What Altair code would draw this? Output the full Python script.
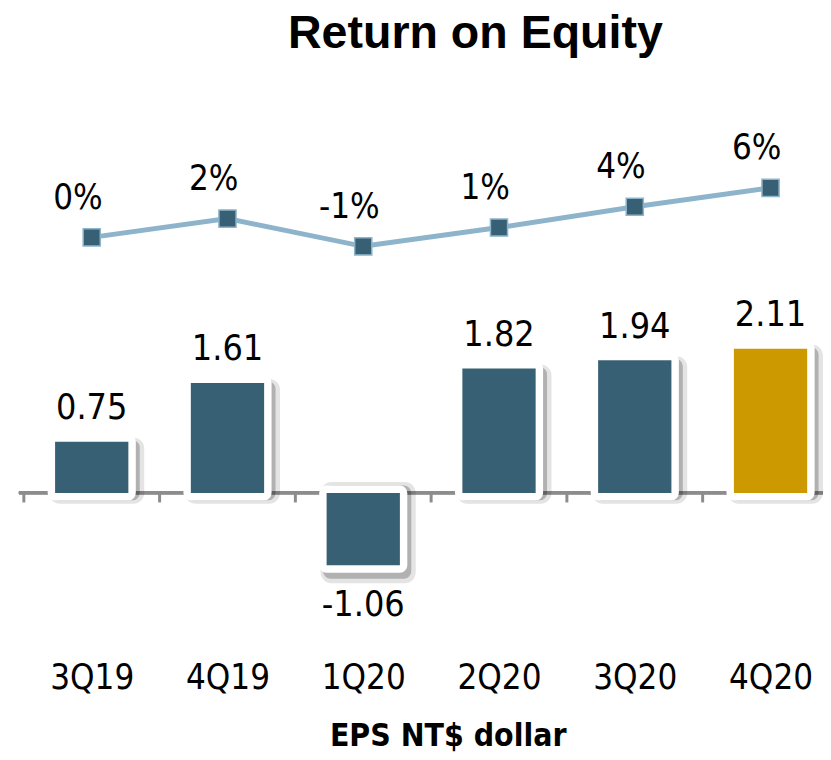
import altair as alt
import pandas as pd

# ---- data ----
quarters = ["3Q19", "4Q19", "1Q20", "2Q20", "3Q20", "4Q20"]
eps = [0.75, 1.61, -1.06, 1.82, 1.94, 2.11]
roe = [0.0012, 0.0235, -0.0094, 0.0129, 0.0376, 0.0600]
highlight = "4Q20"

df = pd.DataFrame({"quarter": quarters, "idx": list(range(len(quarters))),
                   "eps": eps, "roe": roe})
bounds = pd.DataFrame({"b": [i - 0.5 for i in range(len(quarters))]})

DARK = "#386075"
GOLD = "#CC9900"
LINE = "#8DB4CB"
AXIS = "#8C8C8C"
FONT = "DejaVu Sans Condensed, Open Sans, sans-serif"

label_expr = "[" + ",".join("'%s'" % q for q in quarters) + "][datum.value]"

xscale = alt.Scale(domain=[-0.5, 5.35], nice=False, zero=False)
xaxis = alt.Axis(values=list(range(len(quarters))), labelExpr=label_expr,
                 domain=False, ticks=False, tickSize=0, grid=False,
                 labelFont=FONT, labelFontSize=35, labelColor="black",
                 labelBaseline="alphabetic", labelPadding=52,
                 labelOverlap=False, labelFlush=False,
                 title="EPS NT$ dollar", titleFont=FONT, titleFontSize=32,
                 titleFontWeight="bold", titleColor="black",
                 titleX=433, titleY=109, titleBaseline="alphabetic",
                 titleAlign="center")
X = alt.X("idx:Q", scale=xscale, axis=xaxis)
Xb = alt.X("b:Q", scale=xscale, axis=xaxis)

yscale_eps = alt.Scale(domain=[-2.116, 5.855], nice=False, zero=False)
Y = alt.Y("eps:Q", scale=yscale_eps, axis=None)

base = alt.Chart(df)

zero_line = alt.Chart(df).mark_rule(color=AXIS, strokeWidth=3).encode(
    y=alt.YDatum(0, type="quantitative", scale=yscale_eps, axis=None)
)
ticks = alt.Chart(bounds).mark_rule(color=AXIS, strokeWidth=3).encode(
    x=Xb,
    y=alt.YDatum(0, type="quantitative", scale=yscale_eps, axis=None),
    y2=alt.Y2Datum(-0.14),
)

shadow1 = base.mark_bar(width=74, color="#000000", stroke="#000000",
                        strokeWidth=22, strokeJoin="round", opacity=0.10,
                        xOffset=5, yOffset=7).encode(x=X, y=Y, y2=alt.Y2Datum(0))
shadow2 = base.mark_bar(width=74, color="#000000", stroke="#000000",
                        strokeWidth=15, strokeJoin="round", opacity=0.22,
                        xOffset=4, yOffset=6).encode(x=X, y=Y, y2=alt.Y2Datum(0))
white = base.mark_bar(width=74, color="white", stroke="white",
                      strokeWidth=15, strokeJoin="round").encode(
    x=X, y=Y, y2=alt.Y2Datum(0))
bars = base.mark_bar(width=74).encode(
    x=X, y=Y, y2=alt.Y2Datum(0),
    color=alt.condition(alt.datum.quarter == highlight, alt.value(GOLD), alt.value(DARK)),
)

eps_label = "(datum.eps < 0 ? '-' : '') + format(abs(datum.eps), '.2f')"
pos_labels = base.transform_filter("datum.eps >= 0").transform_calculate(
    lab=eps_label).mark_text(font=FONT, fontSize=36, color="black",
                             baseline="alphabetic", dy=-23).encode(
    x=X, y=Y, text="lab:N")
neg_labels = base.transform_filter("datum.eps < 0").transform_calculate(
    lab=eps_label).mark_text(font=FONT, fontSize=36, color="black",
                             baseline="alphabetic", dy=51).encode(
    x=X, y=Y, text="lab:N")

bar_layer = alt.layer(zero_line, ticks, shadow1, shadow2, white, bars,
                      pos_labels, neg_labels)

yscale_roe = alt.Scale(domain=[-0.4741, 0.17294], nice=False, zero=False)
Yr = alt.Y("roe:Q", scale=yscale_roe, axis=None)

line = base.mark_line(color=LINE, strokeWidth=5).encode(x=X, y=Yr)
pts = base.mark_point(shape="square", size=300, filled=True, fill=DARK,
                      stroke=LINE, strokeWidth=1.5, opacity=1).encode(x=X, y=Yr)
roe_labels = base.transform_calculate(
    lab="(datum.roe < -0.005 ? '-' : '') + format(abs(datum.roe), '.0%')"
).mark_text(font=FONT, fontSize=35, color="black", baseline="middle",
            dx=-14, dy=-40).encode(x=X, y=Yr, text="lab:N")

line_layer = alt.layer(line, pts, roe_labels)

chart = alt.layer(bar_layer, line_layer).resolve_scale(y="independent").properties(
    width=812, height=550,
    padding={"left": 11, "top": 82, "right": 0, "bottom": 112},
    autosize=alt.AutoSizeParams(type="none"),
    title=alt.TitleParams("Return on Equity", font="Liberation Sans", fontSize=47,
                          fontWeight="bold", color="black", anchor="middle",
                          frame="group", dx=55, offset=-2, baseline="alphabetic"),
    background="white",
).configure_view(stroke=None)

chart.save("out.html", embed_options={"renderer": "svg", "actions": False})
